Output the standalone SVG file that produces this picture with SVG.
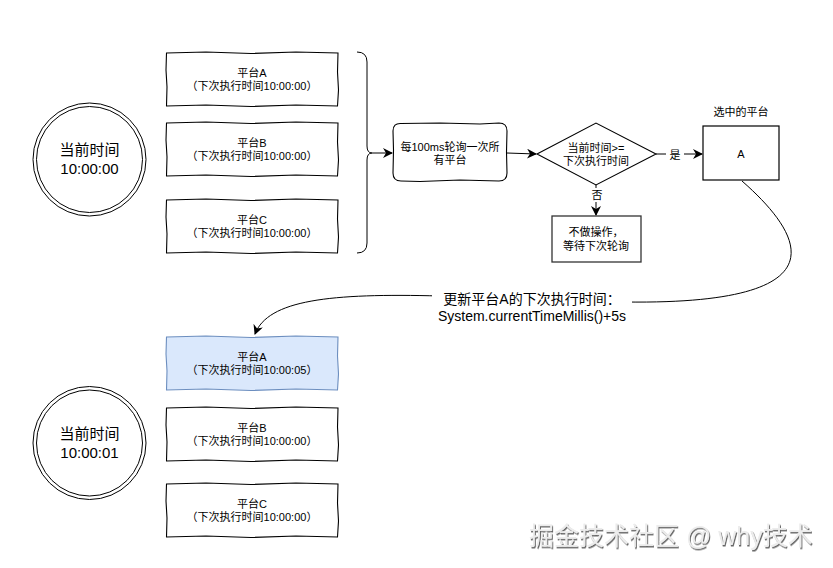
<svg xmlns="http://www.w3.org/2000/svg" xmlns:xlink="http://www.w3.org/1999/xlink" width="833" height="568" viewBox="0 0 833 568">
<style>
text{font-family:"Liberation Sans","Noto Sans CJK SC",sans-serif;fill:#000;text-anchor:middle}
.s{font-size:11px}
.l{font-size:15px}
.lbl{font-size:14px}
.box{fill:#fff;stroke:#000;stroke-width:1.1}
.hl{fill:#dae8fc;stroke:#6c8ebf;stroke-width:1.1}
.ln{fill:none;stroke:#000;stroke-width:1}
.wm{font-size:25px;fill:#ececec;text-anchor:start;filter:url(#emb)}
</style>
<defs>
<path id="sk" d="M0.5 1 L40 0 L85 1.5 L130 0 L172 1 L171.5 20 L172.5 38 L171.5 54 L130 53 L85 54.5 L40 53 L0.5 54 L1 35 L0 18 Z"/>
<marker id="ar" viewBox="0 0 10 10" refX="9" refY="5" markerWidth="10" markerHeight="10" markerUnits="userSpaceOnUse" orient="auto">
<path d="M0 0 L10 5 L0 10 L3 5 Z" fill="#000"/>
</marker>
<filter id="emb" x="-5%" y="-20%" width="110%" height="150%">
<feDropShadow dx="1" dy="1.5" stdDeviation="0.6" flood-color="#555" flood-opacity="0.9"/>
</filter>
</defs>

<g id="connectors">
<path class="ln" d="M357 52 Q367 52 367 62 L367 146 Q367 153 372 153 Q367 153 367 160 L367 243 Q367 253 357 253"/>
<path class="ln" d="M372 153 L392 153" marker-end="url(#ar)"/>
<path class="ln" d="M507 153 L536 154" marker-end="url(#ar)"/>
<path class="ln" d="M656 154 L702 154" marker-end="url(#ar)"/>
<path class="ln" d="M596 185 L596 215" marker-end="url(#ar)"/>
<path class="ln" d="M742 181 C800 232 850 305 625 302 L440 296 C330 293 268 300 255 334" marker-end="url(#ar)"/>
<rect x="666" y="146" width="18" height="16" fill="#fff"/>
<text class="s" x="675" y="159">是</text>
<rect x="588" y="188" width="17" height="14" fill="#fff"/>
<text class="s" x="597" y="199">否</text>
<rect x="432" y="287" width="200" height="36" fill="#fff"/>
<text class="lbl" x="532" y="304">更新平台A的下次执行时间：</text>
<text class="lbl" x="532" y="321">System.currentTimeMillis()+5s</text>
</g>

<g id="clock1">
<circle cx="89.5" cy="159.5" r="56.5" fill="#fff" stroke="#000"/>
<circle cx="89.5" cy="159.5" r="53" fill="none" stroke="#000"/>
<text class="l" x="89.5" y="155">当前时间</text>
<text class="l" x="89.5" y="174">10:00:00</text>
</g>
<g id="platA1">
<use href="#sk" x="166" y="52" class="box"/>
<text class="s" x="252" y="77">平台A</text>
<text class="s" x="252" y="90">（下次执行时间10:00:00）</text>
</g>
<g id="platB1">
<use href="#sk" x="166" y="122" class="box"/>
<text class="s" x="252" y="147">平台B</text>
<text class="s" x="252" y="160">（下次执行时间10:00:00）</text>
</g>
<g id="platC1">
<use href="#sk" x="166" y="199" class="box"/>
<text class="s" x="252" y="224">平台C</text>
<text class="s" x="252" y="237">（下次执行时间10:00:00）</text>
</g>
<g id="poll">
<path class="box" d="M401 123.5 L440 123 L480 124 L499 123 Q507 123 507 131 L506.5 152 L507 173 Q507 181 499 181 L460 180 L420 181.5 L401 181 Q393 181 393 173 L393.5 150 L393 131 Q393 123 401 123.5 Z"/>
<text class="s" x="450" y="151">每100ms轮询一次所</text>
<text class="s" x="450" y="164">有平台</text>
</g>
<g id="cond">
<path class="box" d="M537 154 L596 123 L656 154 L596 185 Z"/>
<text class="s" x="596" y="152">当前时间&gt;=</text>
<text class="s" x="596" y="165">下次执行时间</text>
</g>
<g id="selected">
<text class="s" x="741" y="116">选中的平台</text>
<rect x="703" y="126" width="76" height="54" fill="#fff" stroke="#000" stroke-width="1.2"/>
<text class="s" x="741" y="158">A</text>
</g>
<g id="noop">
<rect x="552" y="216" width="89" height="46" fill="#fff" stroke="#333" stroke-width="1.3"/>
<text class="s" x="596" y="236">不做操作，</text>
<text class="s" x="596" y="250">等待下次轮询</text>
</g>

<g id="clock2">
<circle cx="89.5" cy="443" r="56.5" fill="#fff" stroke="#000"/>
<circle cx="89.5" cy="443" r="53" fill="none" stroke="#000"/>
<text class="l" x="89.5" y="439">当前时间</text>
<text class="l" x="89.5" y="458">10:00:01</text>
</g>
<g id="platA2">
<use href="#sk" x="166" y="336" class="hl"/>
<text class="s" x="252" y="361">平台A</text>
<text class="s" x="252" y="374">（下次执行时间10:00:05）</text>
</g>
<g id="platB2">
<use href="#sk" x="166" y="407" class="box"/>
<text class="s" x="252" y="432">平台B</text>
<text class="s" x="252" y="445">（下次执行时间10:00:00）</text>
</g>
<g id="platC2">
<use href="#sk" x="166" y="483" class="box"/>
<text class="s" x="252" y="508">平台C</text>
<text class="s" x="252" y="521">（下次执行时间10:00:00）</text>
</g>

<text class="wm" x="529" y="545">掘金技术社区 @ why技术</text>
</svg>
